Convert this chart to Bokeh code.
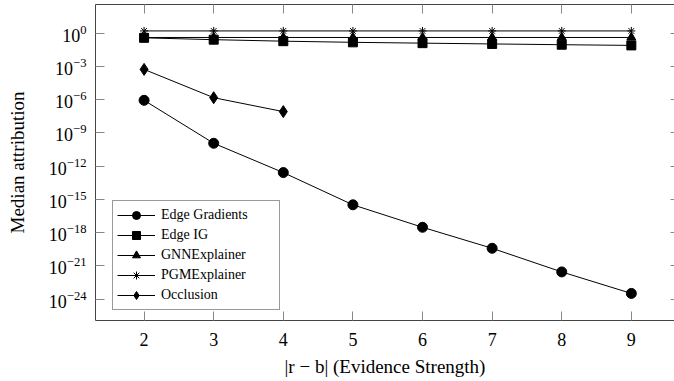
from bokeh.plotting import figure
from bokeh.models import (LinearAxis, FixedTicker, Range1d, Legend, LegendItem,
                          LogTickFormatter, CustomJSTickFormatter)
from bokeh.embed import file_html
from bokeh.resources import INLINE

# ---- data ----
x = [2, 3, 4, 5, 6, 7, 8, 9]
x_occ = [2, 3, 4]
edge_gradients = [8.7e-7, 1.15e-10, 2.6e-13, 3.2e-16, 3.0e-18, 3.8e-20, 2.8e-22, 3.2e-24]
edge_ig = [0.38, 0.26, 0.19, 0.15, 0.126, 0.107, 0.091, 0.079]
gnn_explainer = [0.41, 0.41, 0.41, 0.41, 0.41, 0.41, 0.41, 0.41]
pgm_explainer = [1.6, 1.6, 1.6, 1.6, 1.6, 1.6, 1.6, 1.6]
occlusion = [5.4e-4, 1.5e-6, 8.3e-8]
x_ticks = [2, 3, 4, 5, 6, 7, 8, 9]
y_ticks = [1e0, 1e-3, 1e-6, 1e-9, 1e-12, 1e-15, 1e-18, 1e-21, 1e-24]
series_names = ["Edge Gradients", "Edge IG", "GNNExplainer", "PGMExplainer", "Occlusion"]

FONT = "Liberation Serif"
FRAME = "#444444"

p = figure(width=674, height=381, y_axis_type="log", output_backend="svg",
           toolbar_location=None,
           x_range=Range1d(1.302, 9.62), y_range=Range1d(1.15e-26, 389),
           min_border_left=95, min_border_bottom=61, min_border_top=4, min_border_right=0)
p.background_fill_color = "white"
p.border_fill_color = "white"
p.outline_line_color = None
p.xgrid.visible = False
p.ygrid.visible = False

# bottom axis
xa = p.xaxis[0]
xa.ticker = FixedTicker(ticks=x_ticks)
xa.axis_label = "|r \u2212 b| (Evidence Strength)"
# left axis
ya = p.yaxis[0]
ya.ticker = FixedTicker(ticks=y_ticks)
ya.formatter = LogTickFormatter()
ya.axis_label = "Median attribution"

for ax in (xa, ya):
    ax.axis_line_color = FRAME
    ax.axis_line_width = 1
    ax.major_tick_in = 9
    ax.major_tick_out = 0
    ax.major_tick_line_color = "#888888"
    ax.minor_tick_line_color = None
    ax.major_label_text_font = FONT
    ax.major_label_text_font_size = "18px"
    ax.major_label_text_color = "black"
    ax.axis_label_text_font = FONT
    ax.axis_label_text_font_size = "19px"
    ax.axis_label_text_font_style = "normal"
    ax.axis_label_text_color = "black"
xa.major_label_standoff = 12
xa.axis_label_standoff = 7
ya.major_label_standoff = 9
ya.axis_label_standoff = 18

# mirrored ticks on top and right (labels hidden); the right frame edge lies just past the window
top = LinearAxis(ticker=FixedTicker(ticks=x_ticks), formatter=CustomJSTickFormatter(code="return ''"),
                 major_label_text_font_size="1px", major_label_standoff=0,
                 axis_line_color=FRAME, axis_line_width=1, major_tick_in=9, major_tick_out=0,
                 minor_tick_in=0, minor_tick_out=0,
                 major_tick_line_color="#888888", minor_tick_line_color=None)
right = LinearAxis(ticker=FixedTicker(ticks=y_ticks), formatter=CustomJSTickFormatter(code="return ''"),
                   major_label_text_font_size="1px", major_label_standoff=0,
                   axis_line_color=None, major_tick_in=4, major_tick_out=0,
                   minor_tick_in=0, minor_tick_out=0,
                   major_tick_line_color="#888888", minor_tick_line_color=None)
p.add_layout(top, "above")
p.add_layout(right, "right")

# series
ys = [edge_gradients, edge_ig, gnn_explainer, pgm_explainer, occlusion]
xs = [x, x, x, x, x_occ]
markers = ["circle", "square", "triangle", "asterisk", "diamond"]
sizes = [10, 9, 9, 8, 12]
items = []
for name, xx, yy, mk, sz in zip(series_names, xs, ys, markers, sizes):
    ln = p.line(xx, yy, line_color="black", line_width=1)
    if mk == "asterisk":
        sc = p.scatter(xx, yy, marker=mk, size=sz, line_color="black", line_width=1)
    else:
        sc = p.scatter(xx, yy, marker=mk, size=sz, fill_color="black", line_color="black")
    items.append(LegendItem(label=name, renderers=[ln, sc]))

legend = Legend(items=items, location=(17, 10), border_line_color="#333333", border_line_width=1,
                background_fill_color="white", background_fill_alpha=1.0,
                padding=4, spacing=0, margin=0, glyph_width=38, glyph_height=20,
                label_height=20, label_width=114, label_standoff=6,
                label_text_font=FONT, label_text_font_size="14px", label_text_color="black")
p.add_layout(legend, "center")

open("out.html", "w").write(file_html(p, INLINE))
